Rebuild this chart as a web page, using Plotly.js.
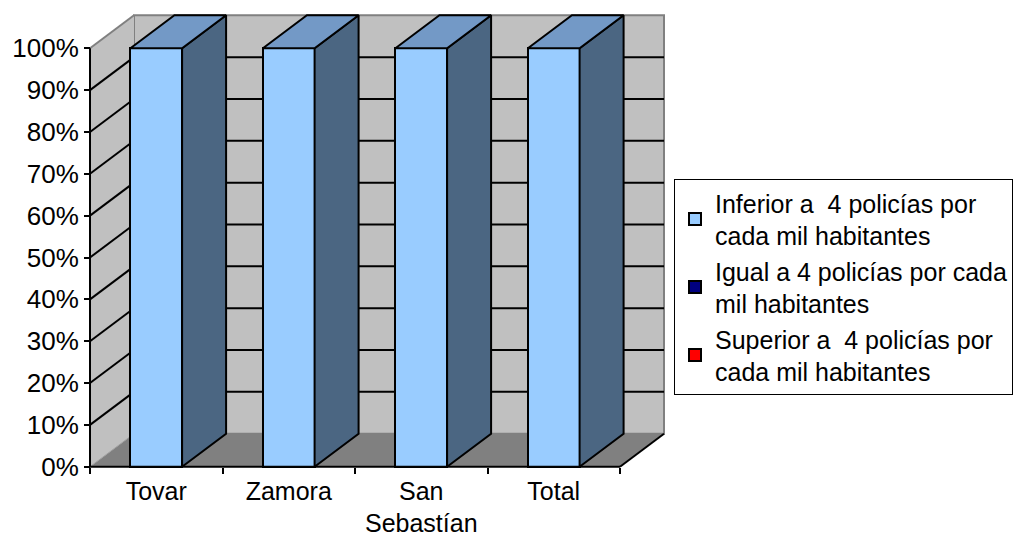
<!DOCTYPE html>
<html>
<head>
<meta charset="utf-8">
<script src="https://cdn.plot.ly/plotly-3.0.1.min.js"></script>
<style>html,body{margin:0;padding:0;background:#fff;}#chart{width:1033px;height:540px;}</style>
</head>
<body>
<div id="chart"></div>
<script>
// ---- data ----
const categories = ['Tovar', 'Zamora', 'San<br>Sebastían', 'Total'];
const seriesNames = [
  'Inferior a  4 policías por<br>cada mil habitantes',
  'Igual a 4 policías por cada<br>mil habitantes',
  'Superior a  4 policías por<br>cada mil habitantes'
];
const inferior = [100, 100, 100, 100];
const igual = [0, 0, 0, 0];
const superior = [0, 0, 0, 0];
const yTicks = [0, 0.1, 0.2, 0.3, 0.4, 0.5, 0.6, 0.7, 0.8, 0.9, 1.0];
const yTickLabels = ['0%', '10%', '20%', '30%', '40%', '50%', '60%', '70%', '80%', '90%', '100%'];

// ---- style ----
const seriesValues = [inferior, igual, superior];
const frontColors = ['#99CCFF', '#000080', '#FF0000'];
const sideColors = ['#4B6682', '#000040', '#800000'];
const topColors = ['#7399C6', '#000060', '#C00000'];
const FONT = '"Liberation Sans", Arial, sans-serif';
const W = 1033, H = 540;
const L = 82, R = 361, T = 8, B = 64;
const X0PX = 90, PXX = 132.5, Y0PX = 466.7, PXY = 418.4;
const DX = 44 / PXX, DY = 33 / PXY;
const BARW = 0.39;
const plotW = W - L - R, plotH = H - T - B;
const xmin = -0.5 - (X0PX - L) / PXX, xmax = xmin + plotW / PXX;
const ymin = -(H - B - Y0PX) / PXY, ymax = ymin + plotH / PXY;

const n = categories.length;
const xIdx = categories.map((_, i) => i);
const xL = -0.5, xR = n - 0.5;

const traces = [];
// front faces (bars)
seriesValues.forEach((vals, s) => {
  traces.push({
    type: 'bar', x: xIdx, y: vals.map(v => v / 100), width: BARW,
    name: seriesNames[s],
    marker: {color: frontColors[s], line: {color: '#000', width: 2}},
    hoverinfo: 'skip'
  });
});
// side and top faces
const base = xIdx.map(() => 0);
const topInfo = xIdx.map(() => null);
seriesValues.forEach((vals, s) => {
  vals.forEach((v, i) => {
    if (v <= 0) return;
    const y0 = base[i], y1 = base[i] + v / 100;
    const r = i + BARW / 2;
    traces.push({
      type: 'scatter', mode: 'lines', showlegend: false, hoverinfo: 'skip',
      x: [r, r, r + DX, r + DX, r], y: [y0, y1, y1 + DY, y0 + DY, y0],
      fill: 'toself', fillcolor: sideColors[s], line: {color: '#000', width: 2}
    });
    base[i] = y1;
    topInfo[i] = {s: s, y: y1};
  });
});
topInfo.forEach((t, i) => {
  if (!t) return;
  const l = i - BARW / 2, r = i + BARW / 2;
  traces.push({
    type: 'scatter', mode: 'lines', showlegend: false, hoverinfo: 'skip',
    x: [l, r, r + DX, l + DX, l], y: [t.y, t.y, t.y + DY, t.y + DY, t.y],
    fill: 'toself', fillcolor: topColors[t.s], line: {color: '#000', width: 2}
  });
});

// walls, floor, gridlines
const yTop = yTicks[yTicks.length - 1];
const shapes = [];
const P = pts => 'M' + pts.map(p => p[0] + ',' + p[1]).join('L') + 'Z';
shapes.push({type: 'path', layer: 'below', xref: 'x', yref: 'y',
  path: P([[xL + DX, DY], [xR + DX, DY], [xR + DX, yTop + DY], [xL + DX, yTop + DY]]),
  fillcolor: '#C0C0C0', line: {color: '#808080', width: 2}});
shapes.push({type: 'path', layer: 'below', xref: 'x', yref: 'y',
  path: P([[xL, 0], [xL, yTop], [xL + DX, yTop + DY], [xL + DX, DY]]),
  fillcolor: '#C0C0C0', line: {width: 0}});
shapes.push({type: 'path', layer: 'below', xref: 'x', yref: 'y',
  path: P([[xL, 0], [xR, 0], [xR + DX, DY], [xL + DX, DY]]),
  fillcolor: '#808080', line: {width: 0}});
yTicks.forEach(v => {
  if (v <= 0 || v >= yTop) return;
  shapes.push({type: 'line', layer: 'below', xref: 'x', yref: 'y',
    x0: xL, y0: v, x1: xL + DX, y1: v + DY, line: {color: '#000', width: 2}});
  shapes.push({type: 'line', layer: 'below', xref: 'x', yref: 'y',
    x0: xL + DX, y0: v + DY, x1: xR + DX, y1: v + DY, line: {color: '#000', width: 2}});
});
shapes.push({type: 'line', layer: 'below', xref: 'x', yref: 'y',
  x0: xL, y0: yTop, x1: xL + DX, y1: yTop + DY, line: {color: '#808080', width: 2}});
shapes.push({type: 'line', layer: 'below', xref: 'x', yref: 'y',
  x0: xL, y0: 0, x1: xL + DX, y1: DY, line: {color: '#A0A0A0', width: 1}});
shapes.push({type: 'line', layer: 'above', xref: 'x', yref: 'y',
  x0: xR, y0: 0, x1: xR + DX, y1: DY, line: {color: '#000', width: 2}});
// axis lines
shapes.push({type: 'line', layer: 'above', xref: 'x', yref: 'y',
  x0: xL, y0: 0, x1: xL, y1: yTop, line: {color: '#000', width: 2}});
shapes.push({type: 'line', layer: 'above', xref: 'x', yref: 'y',
  x0: xL, y0: 0, x1: xR, y1: 0, line: {color: '#000', width: 2}});

const layout = {
  width: W, height: H,
  margin: {l: L, r: R, t: T, b: B, pad: 0},
  paper_bgcolor: '#fff', plot_bgcolor: 'rgba(0,0,0,0)',
  font: {family: FONT, size: 26, color: '#000'},
  barmode: 'stack',
  hovermode: false,
  showlegend: true,
  xaxis: {
    range: [xmin, xmax], anchor: 'free', position: (H - B - Y0PX) / plotH,
    showgrid: false, zeroline: false, showline: false,
    tickmode: 'array', tickvals: xIdx, ticktext: categories,
    ticks: 'outside', ticklen: 2, tickcolor: 'rgba(0,0,0,0)',
    minor: {tick0: -0.5, dtick: 1, ticks: 'outside', ticklen: 6, tickwidth: 2, tickcolor: '#000', showgrid: false},
    tickfont: {family: FONT, size: 25, color: '#000'}
  },
  yaxis: {
    range: [ymin, ymax], anchor: 'free', position: (X0PX - L) / plotW,
    showgrid: false, zeroline: false, showline: false,
    tickmode: 'array', tickvals: yTicks, ticktext: yTickLabels,
    ticks: 'outside', ticklen: 6, tickwidth: 2, tickcolor: '#000',
    tickfont: {family: FONT, size: 26, color: '#000'}
  },
  legend: {
    x: (674 - L) / plotW, xanchor: 'left', y: (H - B - 179) / plotH, yanchor: 'top',
    bgcolor: '#fff', bordercolor: '#000', borderwidth: 1,
    traceorder: 'normal', tracegroupgap: 0,
    font: {family: FONT, size: 25, color: '#000'}
  },
  shapes: shapes
};

Plotly.newPlot('chart', traces, layout, {displayModeBar: false, staticPlot: true});
</script>
</body>
</html>
